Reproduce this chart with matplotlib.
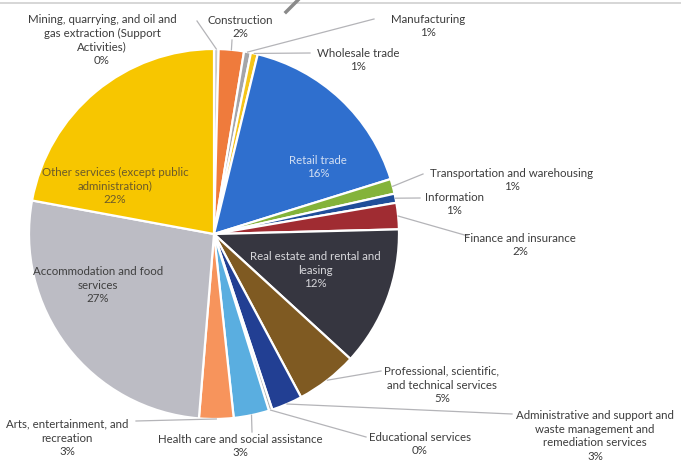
import numpy as np
import matplotlib
matplotlib.use("Agg")
import matplotlib.pyplot as plt

# industries in pie order, clockwise from 12 o'clock
industries = [
    "Mining, quarrying, and oil and\ngas extraction (Support\nActivities)",
    "Construction",
    "Manufacturing",
    "Wholesale trade",
    "Retail trade",
    "Transportation and warehousing",
    "Information",
    "Finance and insurance",
    "Real estate and rental and\nleasing",
    "Professional, scientific,\nand technical services",
    "Administrative and support and\nwaste management and\nremediation services",
    "Educational services",
    "Health care and social assistance",
    "Arts, entertainment, and\nrecreation",
    "Accommodation and food\nservices",
    "Other services (except public\nadministration)",
]
shares = [0.4, 2.2, 0.6, 0.6, 16.4, 1.3, 0.8, 2.3, 12.2, 5.4, 2.7, 0.3, 3.1, 3.0, 26.6, 22.1]
colors = ["#c9c9c9", "#ef7b3c", "#a5a5a8", "#f5c518", "#2f6fce", "#84b33a",
          "#1f4e9a", "#a02c32", "#363640", "#7f5a22", "#223f93", "#b0b0b0",
          "#5aaee0", "#f7945c", "#bcbcc4", "#f7c600"]

# label placement (pixel coords of the text block centre) and leader line ends
label_pos = [(102, 40), (240, 27), (428, 26), (358, 60), (318, 167), (512, 180),
             (454, 204), (520, 245), (315, 270), (442, 385), (595, 436),
             (420, 444), (240, 446), (67, 438), (98, 285), (115, 186)]
leader_end = {0: (197, 21), 1: (232, 40), 2: (374, 19), 3: (310, 53),
              5: (423, 174), 6: (420, 198), 7: (468, 236), 9: (381, 371),
              10: (512, 414), 11: (366, 437), 12: (252, 432), 13: (136, 421)}
inside_color = {4: "#d2def2", 8: "#d8d8dc", 14: "#3f3f3f", 15: "#6b5a2a"}

plt.rcParams['font.family'] = ['Liberation Sans Narrow', 'Lato', 'DejaVu Sans']

fig = plt.figure(figsize=(6.81, 4.65), dpi=100)
ax = fig.add_axes([0, 0, 1, 1])

cx, cy, r = 214, 234, 185
# y axis points down, so counterclock=True runs clockwise on screen
wedges, _ = ax.pie(shares, colors=colors, startangle=-90, counterclock=True,
                   center=(cx, cy), radius=r, frame=True,
                   wedgeprops=dict(edgecolor="white", linewidth=1.6))
ax.set_xlim(0, 681)
ax.set_ylim(465, 0)
ax.set_aspect('equal')
ax.axis('off')

total = sum(shares)
for i, w in enumerate(wedges):
    pct = "{}%".format(int(round(shares[i] / total * 100)))
    tx, ty = label_pos[i]
    col = inside_color.get(i, "#3c3c3c")
    ax.text(tx, ty, industries[i] + "\n" + pct, ha="center", va="center",
            fontsize=8.3, color=col, linespacing=1.3)
    if i in leader_end:
        ang = np.deg2rad((w.theta1 + w.theta2) / 2)
        px = cx + r * np.cos(ang)
        py = cy + r * np.sin(ang)
        ex, ey = leader_end[i]
        ax.plot([px, ex], [py, ey], color="#b4b4b8", lw=0.9)

# scanner marks along the top edge
ax.plot([0, 681], [3, 3], color="#d0d0d0", lw=1.2)
ax.plot([286, 298], [12, 0], color="#8a8a8a", lw=2.5)

fig.savefig("out.png", dpi=100)
